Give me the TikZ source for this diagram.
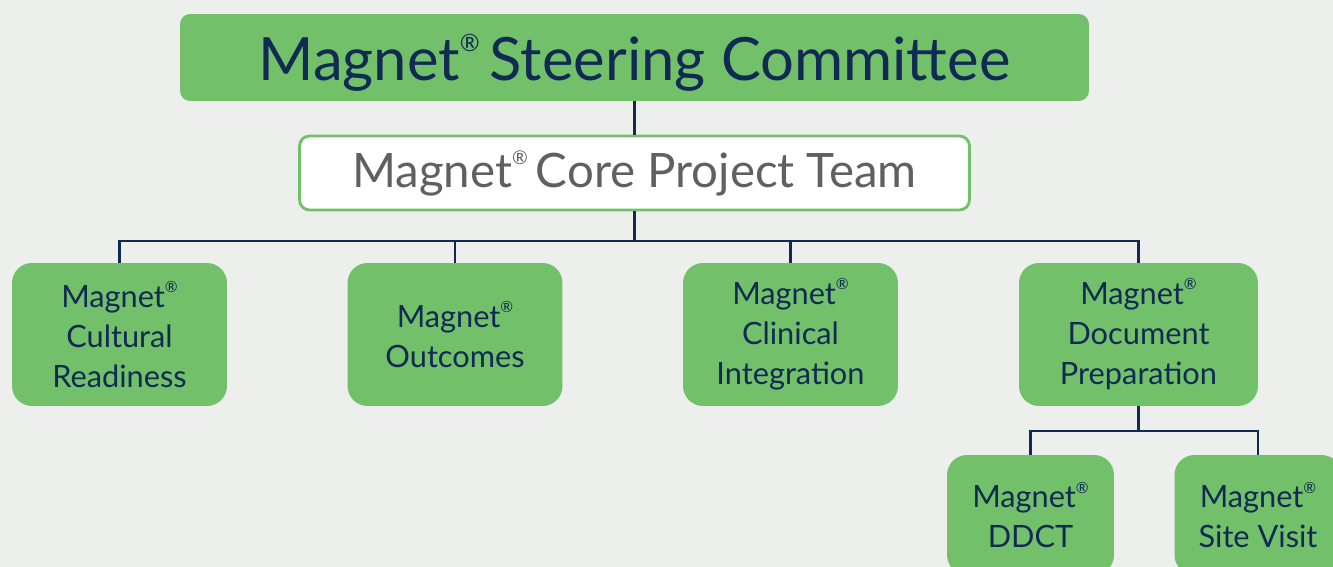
\documentclass[tikz,border=0pt]{standalone}
\usepackage{fontspec}
\setmainfont{Lato}
\definecolor{boxgreen}{RGB}{114,192,105}
\definecolor{navy}{RGB}{16,42,84}
\definecolor{coregray}{RGB}{96,96,96}
\definecolor{bgback}{RGB}{236,239,236}
% small raised registered mark, scale as argument
\newcommand{\reg}[1]{\raisebox{0.48em}{\scalebox{#1}{\textregistered}}}
\begin{document}
\begin{tikzpicture}[x=0.02cm,y=-0.02cm]
	\tikzstyle{head}=[rectangle,fill=boxgreen,rounded corners=0.2cm,minimum width=18.18cm,minimum height=1.74cm,text=navy,text height=32pt,text depth=6pt,font=\fontsize{34}{34}\selectfont]
	\tikzstyle{core}=[rectangle,draw=boxgreen,line width=1.6pt,fill=white,rounded corners=0.2cm,minimum width=13.4cm,minimum height=1.48cm,text=coregray,text height=22pt,text depth=6pt,font=\fontsize{27}{27}\selectfont]
	\tikzstyle{team}=[rectangle,fill=boxgreen,rounded corners=0.4cm,minimum width=4.3cm,minimum height=2.86cm,text=navy,align=center,font=\fontsize{17.5}{22.8}\selectfont]
	\tikzstyle{link}=[draw=navy,line width=1.4pt]

	\useasboundingbox (0,0) rectangle (1333,567);
	\clip (0,0) rectangle (1333,567);
	\fill[bgback] (0,0) rectangle (1333,567);

	\node[head] (SC) at (634.5,57.5) {Magnet\reg{0.4}\,Steering Committee};
	\node[core] (CPT) at (634.5,173) {Magnet\reg{0.4}\,Core Project Team};

	\node[team] (CR) at (119.5,334.5) {Magnet\reg{0.5}\\Cultural\\Readiness};
	\node[team] (OC) at (455,334.5) {Magnet\reg{0.5}\\Outcomes};
	\node[team] (CI) at (790.5,334.5) {Magnet\reg{0.5}\\Clinical\\Integration};
	\node[team,minimum width=4.78cm] (DP) at (1138.5,334.5) {Magnet\reg{0.5}\\Document\\Preparation};

	\node[team,minimum width=3.34cm,minimum height=2.4cm] (DD) at (1030.5,515) {Magnet\reg{0.5}\\DDCT};
	\node[team,minimum width=3.34cm,minimum height=2.4cm] (SV) at (1258,515) {Magnet\reg{0.5}\\Site Visit};

	\coordinate (bus) at (634.5,241);
	\coordinate (bus2) at (1138.5,431);

	\draw[link] (SC) -- (CPT);
	\draw[link] (CPT) -- (bus);
	\draw[link] (bus) -| (CR);
	\draw[link] (bus) -| (OC);
	\draw[link] (bus) -| (CI);
	\draw[link] (bus) -| (DP);
	\draw[link] (DP) -- (bus2);
	\draw[link] (bus2) -| (DD);
	\draw[link] (bus2) -| (SV);
\end{tikzpicture}
\end{document}
